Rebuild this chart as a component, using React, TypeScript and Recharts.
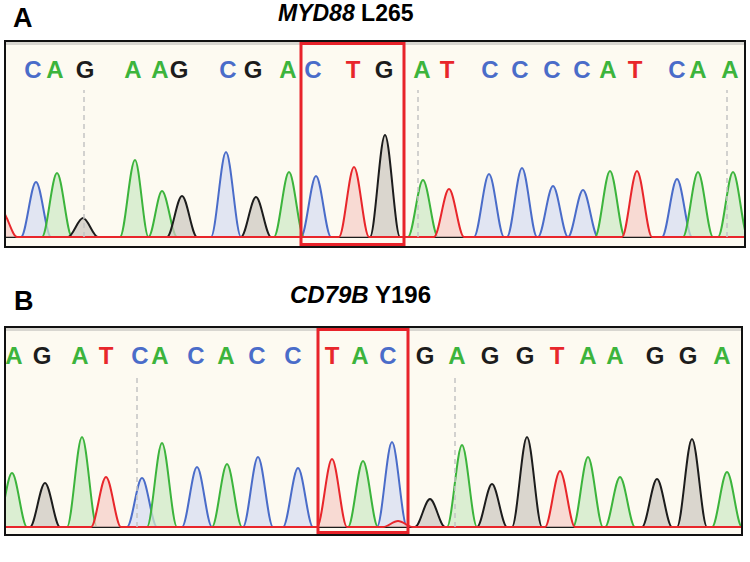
import React from 'react';
import {
  ComposedChart,
  Area,
  Scatter,
  XAxis,
  YAxis,
  ReferenceLine,
  ReferenceArea,
} from 'recharts';

// trace colours, same as the base-call letters
const COLORS: Record<string, string> = { A: '#3cb43c', C: '#4a6cc9', G: '#1c1c1c', T: '#e8262b' };
const FILLS: Record<string, string> = { A: '#cfe9c7', C: '#d7def2', G: '#cdc9c2', T: '#f6cfc8' };
const CHANNELS = ['C', 'A', 'G', 'T'];

// panel A: MYD88 L265
const myd88Calls = ['C','A','G','A','A','G','C','G','A','C','T','G','A','T','C','C','C','C','A','T','C','A','A'];
const myd88CallPos = [33, 55, 85, 133, 160, 179, 228, 253, 288, 313, 353, 384, 422, 447, 490, 520, 552, 582, 608, 635, 677, 698, 730];
const myd88PeakBase = ['T','C','A','G','A','A','G','C','G','A','C','T','G','A','T','C','C','C','C','A','T','C','A','A'];
const myd88PeakPos = [2, 36, 57, 83, 135, 162, 182, 226, 256, 289, 316, 354, 385, 423, 449, 489, 522, 553, 583, 610, 637, 677, 698, 733];
const myd88PeakHeight = [25, 55, 64, 19, 77, 46, 41, 85, 40, 65, 61, 70, 102, 57, 48, 63, 69, 51, 47, 66, 66, 58, 65, 65];
const myd88Dashes = [84, 418, 727];
const myd88Codon = [301, 404];

// panel B: CD79B Y196
const cd79bCalls = ['A','G','A','T','C','A','C','A','C','C','T','A','C','G','A','G','G','T','A','A','G','G','A'];
const cd79bCallPos = [14, 42, 80, 106, 140, 160, 196, 226, 257, 293, 332, 360, 388, 425, 457, 490, 525, 557, 588, 615, 655, 688, 722];
const cd79bPeakBase = ['A','G','A','T','C','A','C','A','C','C','T','A','C','T','G','A','G','G','T','A','A','G','G','A'];
const cd79bPeakPos = [12, 45, 82, 106, 142, 162, 197, 227, 258, 298, 332, 363, 392, 398, 430, 462, 492, 527, 560, 588, 620, 657, 692, 727];
const cd79bPeakHeight = [54, 44, 90, 50, 49, 84, 60, 63, 70, 59, 68, 66, 85, 6, 28, 82, 43, 90, 56, 70, 50, 48, 88, 55];
const cd79bDashes = [137, 455];
const cd79bCodon = [318, 408];

const HALF = 15;

function trace(base: string, bases: string[], pos: number[], h: number[], lo: number, hi: number) {
  const pts: { x: number; y: number }[] = [{ x: lo - 20, y: 0 }];
  bases.forEach((b, i) => {
    if (b !== base) return;
    const left = pos[i] - HALF;
    const last = pts[pts.length - 1];
    if (last.x >= left) last.x = (last.x + left) / 2;
    else pts.push({ x: left, y: 0 });
    pts.push({ x: pos[i], y: h[i] });
    pts.push({ x: pos[i] + HALF, y: 0 });
  });
  pts.push({ x: hi + 20, y: 0 });
  return pts;
}

const Letter = (props: any) => {
  const { cx, cy, payload } = props;
  return (
    <text x={cx} y={cy} textAnchor="middle" dominantBaseline="central" fill={COLORS[payload.b]}
      fontSize={24} fontWeight={700} fontFamily="Liberation Sans, Arial, sans-serif">
      {payload.b}
    </text>
  );
};

interface TraceProps {
  calls: string[];
  callPos: number[];
  peakBase: string[];
  peakPos: number[];
  peakHeight: number[];
  dashes: number[];
  codon: number[];
  lo: number;
  hi: number;
  height: number;
  yMin: number;
  dashTop: number;
}

const Trace: React.FC<TraceProps> = (p) => {
  const yMax = p.height + p.yMin;
  const letterY = yMax - 27;
  const letters = p.calls.map((b, i) => ({ x: p.callPos[i], y: letterY, b }));
  return (
    <ComposedChart width={p.hi - p.lo} height={p.height} margin={{ top: 0, right: 0, bottom: 0, left: 0 }}>
      <XAxis type="number" dataKey="x" domain={[p.lo, p.hi]} hide allowDataOverflow />
      <YAxis type="number" dataKey="y" domain={[p.yMin, yMax]} hide allowDataOverflow />
      {p.dashes.map((d) => (
        <ReferenceLine key={d} segment={[{ x: d, y: 0 }, { x: d, y: p.dashTop }]} stroke="#c4c4c4" strokeWidth={1.5} strokeDasharray="5 4" />
      ))}
      {CHANNELS.map((c) => (
        <Area
          key={c}
          data={trace(c, p.peakBase, p.peakPos, p.peakHeight, p.lo, p.hi)}
          dataKey="y"
          type="monotone"
          stroke={COLORS[c]}
          strokeWidth={2}
          fill={FILLS[c]}
          fillOpacity={0.75}
          isAnimationActive={false}
        />
      ))}
      <Scatter data={letters} dataKey="y" shape={Letter} isAnimationActive={false} />
      <ReferenceArea x1={p.codon[0]} x2={p.codon[1]} y1={p.yMin + 1.5} y2={yMax - 1.5} fill="none" stroke="#e8232a" strokeWidth={3} ifOverflow="visible" />
    </ComposedChart>
  );
};

const frame = (top: number, width: number, height: number): React.CSSProperties => ({
  position: 'absolute', left: 4, top, width, height, boxSizing: 'border-box',
  border: '2px solid #111', background: '#fdfaf1', overflow: 'hidden',
});

const font = 'Liberation Sans, Arial, sans-serif';
const title: React.CSSProperties = { position: 'absolute', fontWeight: 700, whiteSpace: 'nowrap' };

export default function App() {
  return (
    <div style={{ position: 'fixed', left: 0, top: 0, width: 750, height: 562, background: '#fff', fontFamily: font }}>
      <div style={{ ...title, left: 13, top: 3, fontSize: 27 }}>A</div>
      <div style={{ ...title, left: 278, top: 0, fontSize: 23 }}>
        <i>MYD88</i> L265
      </div>
      <div style={frame(40, 742, 208)}>
        <div style={{ position: 'absolute', left: 0, top: 0, width: '100%', height: 3, background: '#d8d6d0' }} />
        <Trace calls={myd88Calls} callPos={myd88CallPos} peakBase={myd88PeakBase} peakPos={myd88PeakPos}
          peakHeight={myd88PeakHeight} dashes={myd88Dashes} codon={myd88Codon} lo={6} hi={744} height={204} yMin={-9} dashTop={147} />
      </div>

      <div style={{ ...title, left: 14, top: 286, fontSize: 27 }}>B</div>
      <div style={{ ...title, left: 290, top: 281, fontSize: 24 }}>
        <i>CD79B</i> Y196
      </div>
      <div style={frame(326, 739, 210)}>
        <div style={{ position: 'absolute', left: 0, top: 0, width: '100%', height: 3, background: '#d8d6d0' }} />
        <Trace calls={cd79bCalls} callPos={cd79bCallPos} peakBase={cd79bPeakBase} peakPos={cd79bPeakPos}
          peakHeight={cd79bPeakHeight} dashes={cd79bDashes} codon={cd79bCodon} lo={6} hi={741} height={206} yMin={-7} dashTop={150} />
      </div>
    </div>
  );
}
